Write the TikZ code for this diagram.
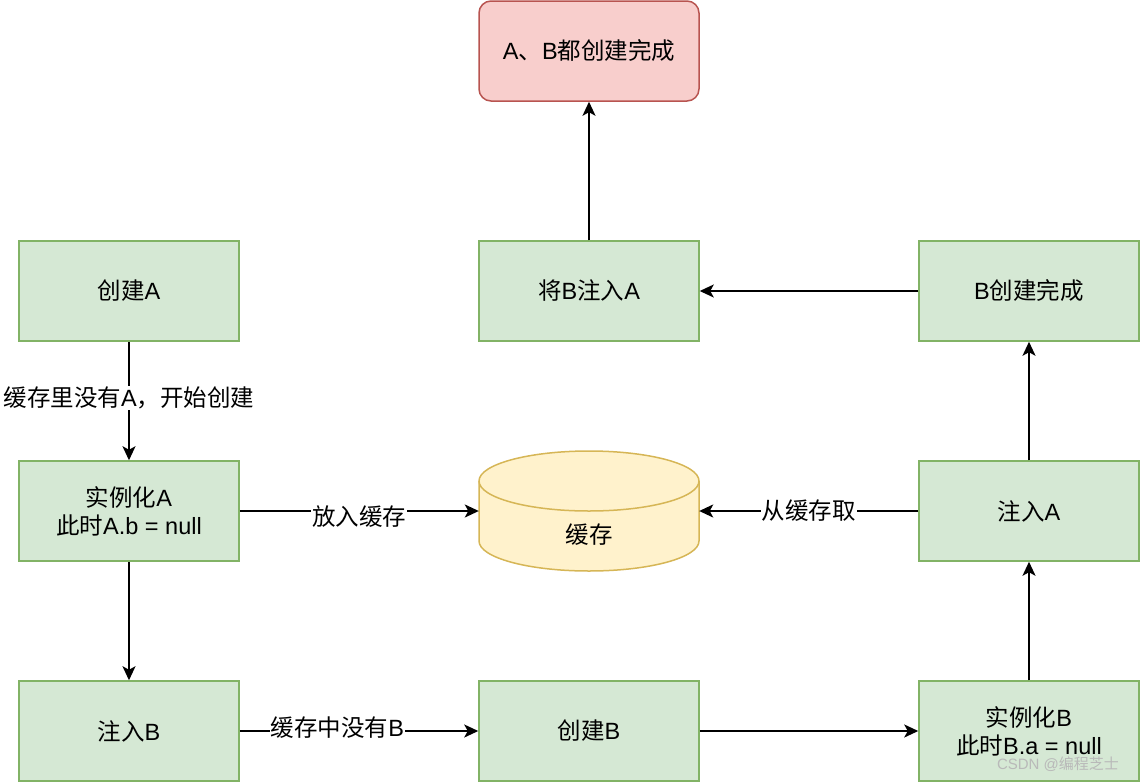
\documentclass[tikz,border=0pt]{standalone}
\usepackage{fontspec}
\setmainfont{Noto Sans CJK SC}
\newfontfamily\latn{Liberation Sans}
\usetikzlibrary{arrows.meta}
\definecolor{gfill}{HTML}{D5E8D4}
\definecolor{gline}{HTML}{82B366}
\definecolor{rfill}{HTML}{F8CECC}
\definecolor{rline}{HTML}{B85450}
\definecolor{yfill}{HTML}{FFF2CC}
\definecolor{yline}{HTML}{D6B656}
\begin{document}
\begin{tikzpicture}[x=1pt,y=-1pt,
  font=\fontsize{23.5}{28}\selectfont,
  box/.style={draw=gline, fill=gfill, line width=1.5pt, minimum width=220pt, minimum height=100pt, align=center, inner sep=0pt},
  donebox/.style={draw=rline, fill=rfill, line width=1.5pt, rounded corners=12pt, minimum width=220pt, minimum height=100pt, align=center, inner sep=0pt},
  arr/.style={-{Stealth[length=14pt,width=13pt,inset=3.5pt]}, line width=1.8pt},
  lbl/.style={fill=white, inner sep=1pt}]
\useasboundingbox (0,0) rectangle (1140,782);

\node[donebox] (done) at (589,51) {{\latn A}、{\latn B}都创建完成};
\node[box] (cA) at (129,291) {创建{\latn A}};
\node[box] (BtoA) at (589,291) {将{\latn B}注入{\latn A}};
\node[box] (Bdone) at (1029,291) {{\latn B}创建完成};
\node[box] (iA) at (129,511) {实例化{\latn A}\\此时{\latn A.b = null}};
\node[box] (injA) at (1029,511) {注入{\latn A}};
\node[box] (injB) at (129,731) {注入{\latn B}};
\node[box] (cB) at (589,731) {创建{\latn B}};
\node[box] (iB) at (1029,731) {实例化{\latn B}\\此时{\latn B.a = null}};

% cache cylinder
\node[minimum width=220pt, minimum height=120pt, inner sep=0pt] (cache) at (589,511) {};
\path[draw=yline, fill=yfill, line width=1.5pt]
  (479,481) -- (479,541) arc[start angle=180, end angle=360, x radius=110, y radius=-30]
  -- (699,481) arc[start angle=0, end angle=180, x radius=110, y radius=-30] -- cycle;
\draw[yline, line width=1.5pt] (479,481) arc[start angle=180, end angle=360, x radius=110, y radius=-30];
\node at (589,535) {缓存};

\draw[arr] (cA) -- node[lbl, pos=0.475] {缓存里没有{\latn A}，开始创建} (iA);
\draw[arr] (iA) -- (injB);
\draw[arr] (iA) -- node[lbl, midway, yshift=-6pt] {放入缓存} (cache);
\draw[arr] (injB) -- node[lbl, pos=0.41, yshift=3pt] {缓存中没有{\latn B}} (cB);
\draw[arr] (cB) -- (iB);
\draw[arr] (iB) -- (injA);
\draw[arr] (injA) -- node[lbl, midway] {从缓存取} (cache);
\draw[arr] (injA) -- (Bdone);
\draw[arr] (Bdone) -- (BtoA);
\draw[arr] (BtoA) -- (done);

\node[text=gray!55, font=\fontsize{15}{15}\selectfont] (wm) at (1058,764) {{\latn CSDN @}编程芝士};
\end{tikzpicture}
\end{document}
